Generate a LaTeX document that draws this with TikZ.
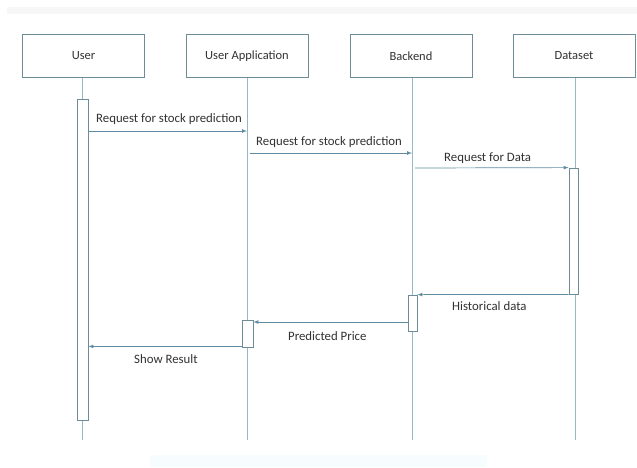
\documentclass[tikz,border=0pt]{standalone}
\usepackage{fontspec}
\setmainfont{Carlito}
\definecolor{boxline}{RGB}{110,140,150}
\definecolor{lifeline}{RGB}{150,185,198}
\definecolor{msgline}{RGB}{95,140,160}
\definecolor{txt}{RGB}{50,50,50}

\begin{document}
\begin{tikzpicture}[x=1pt, y=-1pt, >=latex,
    head/.style={rectangle, draw=boxline, line width=0.8pt, fill=white, minimum width=122pt, minimum height=43pt, text=txt, font=\fontsize{12.5}{14}\selectfont},
    act/.style={rectangle, draw=boxline, line width=0.8pt, fill=white, inner sep=0pt},
    life/.style={draw=lifeline, line width=0.6pt},
    msg/.style={draw=msgline, line width=0.7pt, ->},
    lbl/.style={text=txt, inner sep=0pt, anchor=west, font=\fontsize{12.8}{15}\selectfont}]
  \useasboundingbox (0,0) rectangle (637,467);
  \filldraw[fill=white, draw=none] (0,0) rectangle (637,467);
  \fill[gray!6] (7,7) rectangle (637,14);
  \fill[cyan!3] (150,455) rectangle (487,467);
  \node[head] (U) at (83.5,56) {User};
  \node[head] (A) at (247,56) {User Application};
  \node[head] (B) at (411,56) {Backend};
  \node[head] (D) at (574,56) {Dataset};
  \coordinate (Uend) at (82.5,440);
  \coordinate (Aend) at (247,440);
  \coordinate (Bend) at (412,440);
  \coordinate (Dend) at (575,440);
  \draw[life] (U.south -| Uend) -- (Uend);
  \draw[life] (A.south) -- (Aend);
  \draw[life] (B.south -| Bend) -- (Bend);
  \draw[life] (D.south -| Dend) -- (Dend);
  \node[act, minimum width=11pt, minimum height=321pt] (Uact) at (82.5,259.5) {};
  \node[act, minimum width=11pt, minimum height=27pt] (Aact) at (247.5,333.5) {};
  \node[act, minimum width=9pt, minimum height=36pt] (Bact) at (412.5,313) {};
  \node[act, minimum width=9pt, minimum height=126pt] (Dact) at (573.5,231) {};
  \coordinate (m1) at (247,131);
  \coordinate (m2a) at (250,153);
  \coordinate (m2b) at (412,153);
  \coordinate (m3) at (415,168);
  \coordinate (m5) at (330,322);
  \draw[msg] (Uact.east |- m1) -- (m1);
  \draw[msg] (m2a) -- (m2b);
  \draw[msg] (m3) -- (Dact.north west);
  \draw[msg] (Dact.south west) -- (Bact.north east);
  \draw[msg] (Bact.west |- m5) -- (Aact.east |- m5);
  \draw[msg] ([yshift=1pt]Aact.south west) -- ([yshift=1pt]Uact.east |- Aact.south west);
  \node[lbl] (L1) at (96,119) {Request for stock prediction};
  \node[lbl] (L2) at (256,142) {Request for stock prediction};
  \node[lbl] (L3) at (444,158) {Request for Data};
  \node[lbl] (L4) at (452,306) {Historical data};
  \node[lbl] (L5) at (288,336) {Predicted Price};
  \node[lbl] (L6) at (134,359) {Show Result};
\end{tikzpicture}
\end{document}
